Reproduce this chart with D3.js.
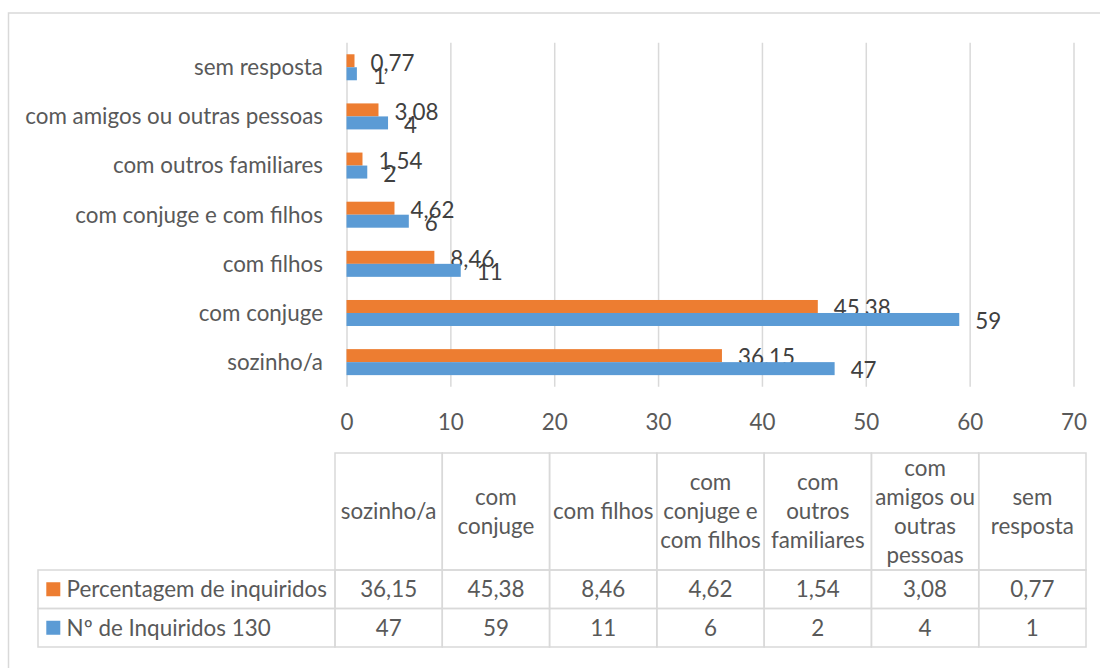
<!DOCTYPE html>
<html>
<head>
<meta charset="utf-8">
<script src="https://cdn.jsdelivr.net/npm/d3@7"></script>
<style>
  body { margin: 0; background: #fff; }
  svg text { font-family: Lato, "Open Sans", sans-serif; fill: #595959; }
  svg text.lbl { fill: #404040; }
</style>
</head>
<body>
<svg id="chart" width="1100" height="668"></svg>
<script>
// data, in table order (first row of the bar chart is at the bottom)
const categories = ["sozinho/a", "com conjuge", "com filhos", "com conjuge e com filhos",
  "com outros familiares", "com amigos ou outras pessoas", "sem resposta"];
const headerLines = [["sozinho/a"], ["com", "conjuge"], ["com filhos"], ["com", "conjuge e", "com filhos"],
  ["com", "outros", "familiares"], ["com", "amigos ou", "outras", "pessoas"], ["sem", "resposta"]];
const seriesNames = ["Percentagem de inquiridos", "Nº de Inquiridos 130"];
const percentagem = [36.15, 45.38, 8.46, 4.62, 1.54, 3.08, 0.77];
const inquiridos = [47, 59, 11, 6, 2, 4, 1];
const xTicks = [0, 10, 20, 30, 40, 50, 60, 70];
const colors = ["#ED7D31", "#5B9BD5"];

const pt = d3.formatLocale({decimal: ",", thousands: ".", grouping: [3], currency: ["", " €"]});
const series = [
  {name: seriesNames[0], values: percentagem, color: colors[0], fmt: pt.format(".2f")},
  {name: seriesNames[1], values: inquiridos, color: colors[1], fmt: pt.format("d")}
];

const svg = d3.select("#chart");

// fit the font size so the longest category label has the width of the original
const probe = svg.append("text").style("font-size", "100px").text("com amigos ou outras pessoas");
const fs = 100 * 298 / probe.node().getComputedTextLength();
probe.remove();
svg.style("font-size", fs + "px");

// outer frame (cut by the picture on the right and bottom)
svg.append("rect")
  .attr("x", 8.5).attr("y", 13)
  .attr("width", 1300).attr("height", 900)
  .attr("fill", "none").attr("stroke", "#d9d9d9").attr("stroke-width", 1.5);

const plotTop = 42.7, plotBottom = 386.7;

const x = d3.scaleLinear().domain([0, 70]).range([346.5, 1073.5]);
const y = d3.scaleBand().domain(categories.slice().reverse()).range([plotTop, plotBottom])
  .paddingInner(0.471).paddingOuter(0.2355);
const sub = d3.scaleBand().domain([0, 1]).range([0, y.bandwidth()]);

// value axis with gridlines
const xAxis = svg.append("g")
  .attr("transform", `translate(0,${plotBottom})`)
  .call(d3.axisBottom(x).tickValues(xTicks).tickSize(-(plotBottom - plotTop)));
xAxis.select(".domain").remove();
xAxis.selectAll("line").attr("stroke", "#d9d9d9").attr("stroke-width", 1.5);
xAxis.selectAll("text").attr("y", 35).attr("dy", "0.35em");
xAxis.attr("font-size", null).attr("font-family", null);

// category axis
const yAxis = svg.append("g")
  .attr("transform", `translate(${x(0)},0)`)
  .call(d3.axisLeft(y).tickSize(0).tickPadding(23.5));
yAxis.select(".domain").remove();
yAxis.selectAll("text").attr("dy", "0.35em");
yAxis.attr("font-size", null).attr("font-family", null);

// bars and labels
series.forEach((s, si) => {
  const g = svg.append("g");
  g.selectAll("rect")
    .data(categories)
    .join("rect")
    .attr("x", x(0))
    .attr("y", c => y(c) + sub(si))
    .attr("width", (c, i) => x(s.values[i]) - x(0))
    .attr("height", sub.bandwidth())
    .attr("fill", s.color);
  g.selectAll("text")
    .data(categories)
    .join("text")
    .attr("class", "lbl")
    .attr("x", (c, i) => x(s.values[i]) + 16)
    .attr("y", c => y(c) + sub(si) + sub.bandwidth() / 2 + 2)
    .attr("dy", "0.35em")
    .text((c, i) => s.fmt(s.values[i]));
});

// data table
const col = d3.scaleBand().domain(categories).range([335, 1086]);
const rowsY = [[453, 570], [570, 608.5], [608.5, 647]];
const legendLeft = 38;
const lineStyle = sel => sel.attr("fill", "none").attr("stroke", "#d9d9d9").attr("stroke-width", 1.5);

const table = svg.append("g");
// header cells
table.selectAll("rect.head")
  .data(categories)
  .join("rect")
  .attr("class", "head")
  .attr("x", c => col(c)).attr("y", rowsY[0][0])
  .attr("width", col.bandwidth()).attr("height", rowsY[0][1] - rowsY[0][0])
  .call(lineStyle);

const headMid = (rowsY[0][0] + rowsY[0][1]) / 2;
categories.forEach((c, i) => {
  const lines = headerLines[i];
  table.append("text")
    .attr("text-anchor", "middle")
    .selectAll("tspan")
    .data(lines)
    .join("tspan")
    .attr("x", col(c) + col.bandwidth() / 2)
    .attr("y", (d, k) => headMid + (k - (lines.length - 1) / 2) * 29)
    .attr("dy", "0.35em")
    .text(d => d);
});

// value rows with legend keys
series.forEach((s, si) => {
  const [y0, y1] = rowsY[si + 1];
  const mid = (y0 + y1) / 2;
  table.append("rect")
    .attr("x", legendLeft).attr("y", y0)
    .attr("width", col.range()[0] - legendLeft).attr("height", y1 - y0)
    .call(lineStyle);
  table.append("rect")
    .attr("x", 46.3).attr("y", mid - 7)
    .attr("width", 14).attr("height", 14)
    .attr("fill", s.color);
  table.append("text")
    .attr("x", 66.6).attr("y", mid).attr("dy", "0.35em")
    .text(s.name);
  table.selectAll("rect.r" + si)
    .data(categories)
    .join("rect")
    .attr("class", "r" + si)
    .attr("x", c => col(c)).attr("y", y0)
    .attr("width", col.bandwidth()).attr("height", y1 - y0)
    .call(lineStyle);
  table.selectAll("text.v" + si)
    .data(categories)
    .join("text")
    .attr("class", "v" + si)
    .attr("x", c => col(c) + col.bandwidth() / 2)
    .attr("y", mid).attr("dy", "0.35em")
    .attr("text-anchor", "middle")
    .text((c, i) => s.fmt(s.values[i]));
});
</script>
</body>
</html>
